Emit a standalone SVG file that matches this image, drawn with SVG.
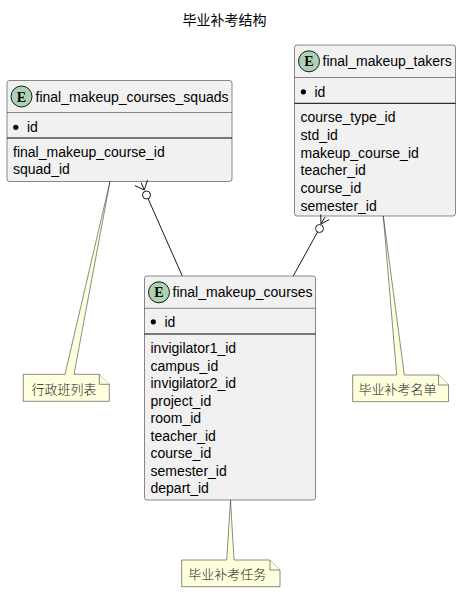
<svg xmlns="http://www.w3.org/2000/svg" width="461" height="592" viewBox="0 0 461 592">
<style>
.box{fill:#F1F1F1;stroke:#181818;stroke-width:0.5}
.hsep{stroke:#181818;stroke-width:0.5}
.sep{stroke:#000;stroke-width:1}
.ic{fill:#ADD1B2;stroke:#181818;stroke-width:1}
.e{font-family:"Liberation Serif","DejaVu Serif",serif;font-weight:bold;font-size:14px;text-anchor:middle;fill:#000}
.t{font-family:"Liberation Sans",Arial,sans-serif;font-size:14px;fill:#000}
.note{fill:#FEFFDD;stroke:#181818;stroke-width:0.5}
.nt{font-family:"Noto Sans CJK SC","Liberation Sans",sans-serif;font-size:13px;font-weight:300;fill:#222}
.title{font-family:"Noto Sans CJK SC","Liberation Sans",sans-serif;font-size:14px;fill:#000;text-anchor:middle}
.ln{stroke:#181818;stroke-width:1;fill:none}
.circ{stroke:#181818;stroke-width:1;fill:none}
</style>
<rect width="461" height="592" fill="#FFFFFF"/>
<text class="title" x="224.5" y="24.5">毕业补考结构</text>

<g id="final_makeup_courses_squads">
<rect class="box" x="7" y="80.5" width="225" height="101" rx="2.5"/>
<circle class="ic" cx="21.5" cy="96.5" r="10.5"/>
<text class="e" x="21.5" y="101.5">E</text>
<text class="t" x="35.5" y="101.5">final_makeup_courses_squads</text>
<line class="hsep" x1="7" y1="112.5" x2="232" y2="112.5"/>
<circle cx="15.8" cy="127.3" r="2.6" fill="#000"/>
<text class="t" x="27" y="132">id</text>
<line class="sep" x1="7" y1="138" x2="232" y2="138"/>
<text class="t" x="13" y="156.7">final_makeup_course_id</text>
<text class="t" x="13" y="174">squad_id</text>
</g>

<g id="final_makeup_takers">
<rect class="box" x="294.5" y="45" width="161" height="171" rx="2.5"/>
<circle class="ic" cx="309" cy="61.3" r="10.5"/>
<text class="e" x="309" y="66.3">E</text>
<text class="t" x="322.5" y="66">final_makeup_takers</text>
<line class="hsep" x1="294.5" y1="77.5" x2="455.5" y2="77.5"/>
<circle cx="303.4" cy="91.8" r="2.6" fill="#000"/>
<text class="t" x="314.5" y="96.5">id</text>
<line class="sep" x1="294.5" y1="103.3" x2="455.5" y2="103.3"/>
<text class="t" x="300.5" y="122.3">course_type_id</text>
<text class="t" x="300.5" y="140">std_id</text>
<text class="t" x="300.5" y="157.6">makeup_course_id</text>
<text class="t" x="300.5" y="175.3">teacher_id</text>
<text class="t" x="300.5" y="193">course_id</text>
<text class="t" x="300.5" y="210.6">semester_id</text>
</g>

<g id="final_makeup_courses">
<rect class="box" x="144.5" y="276" width="171" height="224" rx="2.5"/>
<circle class="ic" cx="159" cy="292.3" r="10.5"/>
<text class="e" x="159" y="297.3">E</text>
<text class="t" x="172.5" y="297">final_makeup_courses</text>
<line class="hsep" x1="144.5" y1="308.3" x2="315.5" y2="308.3"/>
<circle cx="153.3" cy="321.8" r="2.6" fill="#000"/>
<text class="t" x="164.5" y="326.5">id</text>
<line class="sep" x1="144.5" y1="334" x2="315.5" y2="334"/>
<text class="t" x="150.5" y="353.3">invigilator1_id</text>
<text class="t" x="150.5" y="370.8">campus_id</text>
<text class="t" x="150.5" y="388.3">invigilator2_id</text>
<text class="t" x="150.5" y="405.8">project_id</text>
<text class="t" x="150.5" y="423.3">room_id</text>
<text class="t" x="150.5" y="440.8">teacher_id</text>
<text class="t" x="150.5" y="458.3">course_id</text>
<text class="t" x="150.5" y="475.8">semester_id</text>
<text class="t" x="150.5" y="493.3">depart_id</text>
</g>

<g id="note_squads">
<path class="note" d="M23.3,374.3 L23.3,401.3 L109.3,401.3 L109.3,384.3 L99.3,374.3 L74,374.3 L110,181.5 L65,374.3 Z"/>
<path class="note" d="M99.3,374.3 L99.3,384.3 L109.3,384.3"/>
<text class="nt" x="31.5" y="393.8">行政班列表</text>
</g>

<g id="note_takers">
<path class="note" d="M352.7,375 L352.7,401.7 L448.5,401.7 L448.5,385 L438.5,375 L404.3,375 L383.3,216 L396.7,375 Z"/>
<path class="note" d="M438.5,375 L438.5,385 L448.5,385"/>
<text class="nt" x="358.5" y="394.3">毕业补考名单</text>
</g>

<g id="note_courses">
<path class="note" d="M181.7,560 L181.7,586.7 L280,586.7 L280,570 L270,560 L234,560 L230.5,500 L226.7,560 Z"/>
<path class="note" d="M270,560 L270,570 L280,570"/>
<text class="nt" x="188.3" y="579">毕业补考任务</text>
</g>

<g id="connectors">
<line class="ln" x1="148.1" y1="198.7" x2="182.3" y2="276"/>
<circle class="circ" cx="146.5" cy="195" r="4"/>
<line class="ln" x1="144.3" y1="190" x2="141.1" y2="182.7"/>
<line class="ln" x1="144.3" y1="190" x2="147.5" y2="179.9"/>
<line class="ln" x1="144.3" y1="190" x2="134.7" y2="185.5"/>

<line class="ln" x1="317.5" y1="232" x2="293.3" y2="276"/>
<circle class="circ" cx="319.5" cy="228.5" r="4"/>
<line class="ln" x1="321" y1="224" x2="325" y2="217"/>
<line class="ln" x1="321" y1="224" x2="329.3" y2="219.5"/>
<line class="ln" x1="321" y1="224" x2="320.7" y2="214.5"/>
</g>
</svg>
